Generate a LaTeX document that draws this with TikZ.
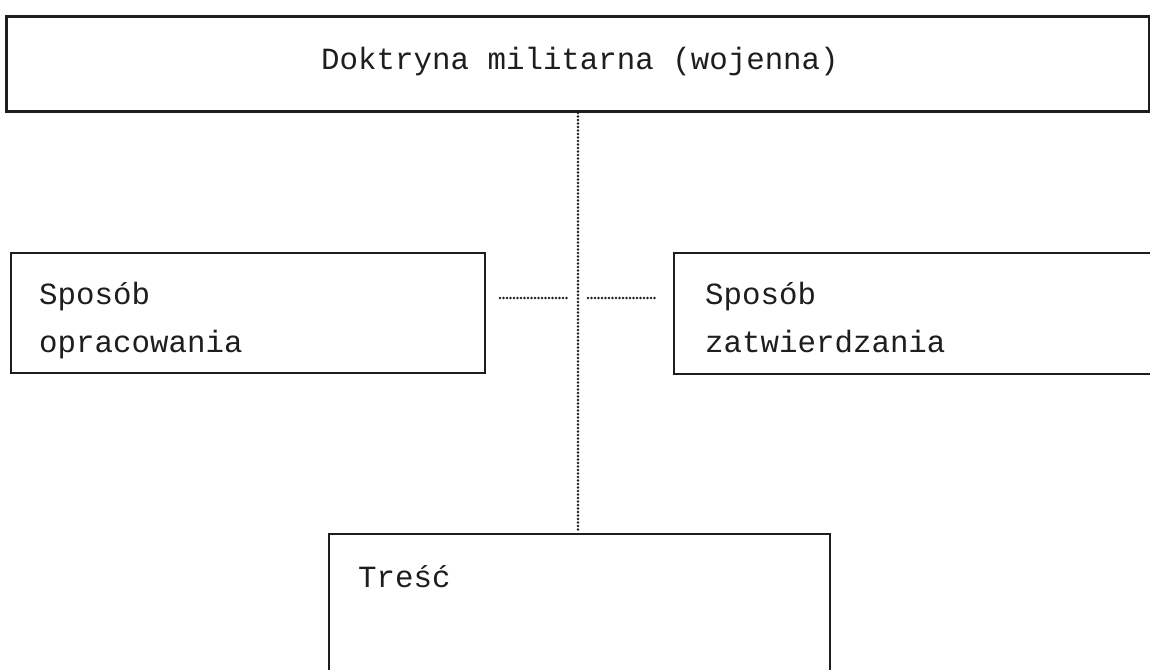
\documentclass[tikz,border=0pt]{standalone}
\usepackage{fontspec}
\setmonofont{Liberation Mono}
\definecolor{ink}{HTML}{1E1E1E}
\begin{document}
\begin{tikzpicture}[x=1pt,y=-1pt,
  box/.style={draw=ink, line width=2pt, rectangle, inner sep=0pt, anchor=north west},
  lbl/.style={font=\ttfamily\fontsize{30.8}{36}\selectfont, text=ink, anchor=base west, inner sep=0pt},
  dotline/.style={draw=ink, line width=2.6pt, line cap=round, dash pattern=on 0pt off 3.5pt}]
\useasboundingbox (0,0) rectangle (1150,669);
\fill[white] (0,0) rectangle (1150,669);
\clip (0,0) rectangle (1150,669);
% boxes
\node[box, line width=3pt, minimum width=1143pt, minimum height=95pt] (top) at (5,15) {};
\node[box, minimum width=474pt, minimum height=120pt] (left) at (10,252) {};
\node[box, minimum width=520pt, minimum height=121pt] (right) at (673,252) {};
\node[box, minimum width=501pt, minimum height=200pt] (bot) at (328,533) {};
% texts
\node[lbl, anchor=base] (toptxt) at (580,69) {Doktryna militarna (wojenna)};
\node[lbl] (l1) at (39,304) {Sposób};
\node[lbl] (l2) at (39,352) {opracowania};
\node[lbl] (r1) at (705,304) {Sposób};
\node[lbl] (r2) at (705,352) {zatwierdzania};
\node[lbl] (b1) at (358,587) {Treść};
% dotted connectors
\draw[dotline] (top.south) -- (top.south |- bot.north);
\coordinate (hl1) at (500,298);
\coordinate (hl2) at (567,298);
\coordinate (hr1) at (588,298);
\coordinate (hr2) at (655,298);
\draw[dotline] (hl1) -- (hl2);
\draw[dotline] (hr1) -- (hr2);
\end{tikzpicture}
\end{document}
